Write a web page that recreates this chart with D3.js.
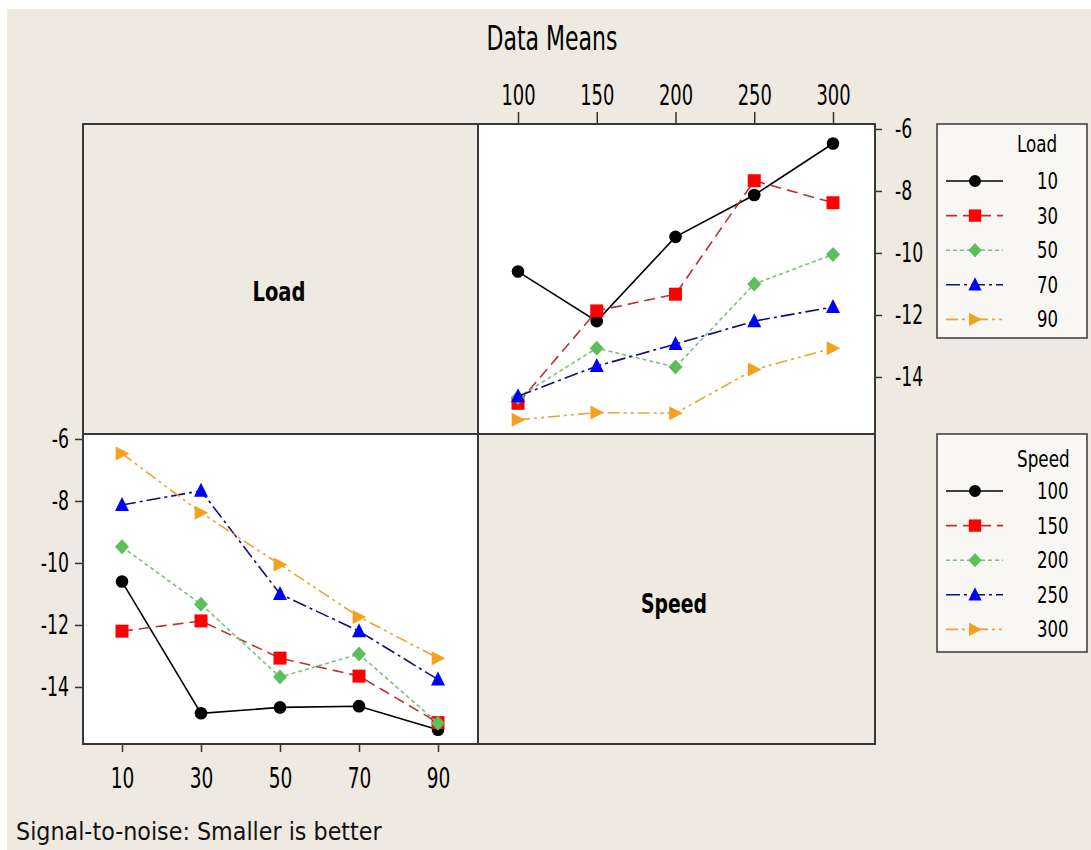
<!DOCTYPE html>
<html>
<head>
<meta charset="utf-8">
<script src="https://cdn.jsdelivr.net/npm/d3@7"></script>
<style>
  body { margin: 0; background: #ffffff; }
  text { font-family: "DejaVu Sans", Verdana, sans-serif; }
</style>
</head>
<body>
<svg id="chart" width="1091" height="850"></svg>
<script>
// Factor levels
const speeds = [100, 150, 200, 250, 300];
const loads = [10, 30, 50, 70, 90];

// Mean S/N ratio for each Load level, listed in Speed order
const load10 = [-10.60, -12.20, -9.48, -8.13, -6.47];
const load30 = [-14.85, -11.87, -11.33, -7.67, -8.38];
const load50 = [-14.66, -13.07, -13.68, -11.00, -10.05];
const load70 = [-14.62, -13.65, -12.94, -12.20, -11.74];
const load90 = [-15.38, -15.15, -15.17, -13.76, -13.07];

const yTicks = [-6, -8, -10, -12, -14];
const yTickLabels = ["-6", "-8", "-10", "-12", "-14"];

// Series appearance, by level index
const lineColors = ["#000000", "#b83232", "#7cc07c", "#10107a", "#eea235"];
const markColors = ["#000000", "#ff0000", "#5cbf5c", "#0000ff", "#f5a01e"];
const dashes = [null, "11,6", "4,3", "14,4,3,4", "12,4,3,4,3,4"];
const shapes = ["circle", "square", "diamond", "triUp", "triRight"];

const means = [load10, load30, load50, load70, load90];

const svg = d3.select("#chart");

// layout
const L = 83, M = 478, R = 875;
const T = 124, C = 434, B = 744;
const sx = 0.64; // horizontal squeeze of the narrow chart font

svg.append("rect").attr("x", 7).attr("y", 9).attr("width", 1084).attr("height", 841).attr("fill", "#eeeae1");

// plot panels
svg.append("rect").attr("x", M).attr("y", T).attr("width", R - M).attr("height", C - T).attr("fill", "#ffffff");
svg.append("rect").attr("x", L).attr("y", C).attr("width", M - L).attr("height", B - C).attr("fill", "#ffffff");

function shapePath(kind, k) {
  const s = k || 1;
  switch (kind) {
    case "circle": return d3.symbol(d3.symbolCircle, 125 * s * s)();
    case "square": return `M${-6.5 * s},${-6.5 * s}H${6.5 * s}V${6.5 * s}H${-6.5 * s}Z`;
    case "diamond": return `M0,${-7.5 * s}L${7 * s},0L0,${7.5 * s}L${-7 * s},0Z`;
    case "triUp": return `M0,${-8 * s}L${7 * s},${6 * s}L${-7 * s},${6 * s}Z`;
    case "triRight": return `M${-6.3 * s},${-7 * s}L${7.3 * s},0L${-6.3 * s},${7 * s}Z`;
  }
}

function textAt(parent, str, x, y, opt) {
  const g = parent.append("g").attr("transform", `translate(${x},${y})`);
  const t = g.append("text").text(str)
    .attr("font-size", opt.size)
    .attr("font-weight", opt.weight || "normal")
    .attr("text-anchor", opt.anchor || "start")
    .attr("fill", opt.fill || "#000");
  const s = opt.width ? opt.width / t.node().getComputedTextLength() : (opt.sx || 1);
  t.attr("transform", `scale(${s},1)`);
  return t;
}

function squeezeAxis(g, size) {
  g.attr("font-family", null).attr("font-size", size);
  g.select(".domain").remove();
  g.selectAll(".tick line").attr("stroke", "#333").attr("stroke-width", 1.5);
  g.selectAll(".tick text").attr("fill", "#000").each(function () {
    const t = d3.select(this);
    const x = +t.attr("x") || 0, y = +t.attr("y") || 0;
    t.attr("x", null).attr("y", null).attr("transform", `translate(${x},${y}) scale(${sx},1)`);
  });
}

// scales
const xSpeed = d3.scalePoint().domain(speeds).range([M + 40, R - 42]);
const xLoad = d3.scalePoint().domain(loads).range([L + 39, M - 40]);
const yTop = d3.scaleLinear().domain([-15.84, -5.84]).range([C, T]);
const yBot = d3.scaleLinear().domain([-15.84, -5.84]).range([B, C]);

// axes
const topAxis = svg.append("g").attr("transform", `translate(0,${T})`)
  .call(d3.axisTop(xSpeed).tickSize(12).tickPadding(7));
squeezeAxis(topAxis, 28);

const rightAxis = svg.append("g").attr("transform", `translate(${R},0)`)
  .call(d3.axisRight(yTop).tickValues(yTicks).tickFormat((d, i) => yTickLabels[i]).tickSize(7).tickPadding(13));
squeezeAxis(rightAxis, 27);

const bottomAxis = svg.append("g").attr("transform", `translate(0,${B})`)
  .call(d3.axisBottom(xLoad).tickSize(8).tickPadding(15));
squeezeAxis(bottomAxis, 29);

const leftAxis = svg.append("g").attr("transform", `translate(${L},0)`)
  .call(d3.axisLeft(yBot).tickValues(yTicks).tickFormat((d, i) => yTickLabels[i]).tickSize(8).tickPadding(6));
squeezeAxis(leftAxis, 27);

// series: Load levels against Speed (upper right)
const upper = svg.append("g");
loads.forEach((ld, i) => {
  const pts = speeds.map((s, j) => [xSpeed(s), yTop(means[i][j])]);
  upper.append("path").attr("d", d3.line()(pts)).attr("fill", "none")
    .attr("stroke", lineColors[i]).attr("stroke-width", 1.6)
    .attr("stroke-dasharray", dashes[i]);
  upper.selectAll(null).data(pts).join("path")
    .attr("d", shapePath(shapes[i]))
    .attr("transform", d => `translate(${d[0]},${d[1]})`)
    .attr("fill", markColors[i]);
});

// series: Speed levels against Load (lower left)
const lower = svg.append("g");
speeds.forEach((sp, j) => {
  const pts = loads.map((ld, i) => [xLoad(ld), yBot(means[i][j])]);
  lower.append("path").attr("d", d3.line()(pts)).attr("fill", "none")
    .attr("stroke", lineColors[j]).attr("stroke-width", 1.6)
    .attr("stroke-dasharray", dashes[j]);
  lower.selectAll(null).data(pts).join("path")
    .attr("d", shapePath(shapes[j]))
    .attr("transform", d => `translate(${d[0]},${d[1]})`)
    .attr("fill", markColors[j]);
});

// matrix frame
const frame = svg.append("g").attr("stroke", "#383838").attr("stroke-width", 2).attr("fill", "none");
frame.append("rect").attr("x", L).attr("y", T).attr("width", R - L).attr("height", B - T);
frame.append("line").attr("x1", M).attr("x2", M).attr("y1", T).attr("y2", B);
frame.append("line").attr("x1", L).attr("x2", R).attr("y1", C).attr("y2", C);

// diagonal panel names
textAt(svg, "Load", 279, 301, { size: 26, weight: "bold", anchor: "middle", width: 53 });
textAt(svg, "Speed", 674, 613, { size: 27, weight: "bold", anchor: "middle", width: 66 });

// title and footnote
textAt(svg, "Data Means", 552, 50, { size: 34, anchor: "middle", width: 131 });
textAt(svg, "Signal-to-noise: Smaller is better", 16, 840, { size: 25, width: 366, fill: "#111" });

// legends
function legend(top, bottom, title, levels, titleDy) {
  const g = svg.append("g");
  g.append("rect").attr("x", 937).attr("y", top).attr("width", 150).attr("height", bottom - top)
    .attr("fill", "#f8f7f3").attr("stroke", "#383838").attr("stroke-width", 1.5);
  textAt(g, title, 1017, top + titleDy, { size: 23, sx: 0.73 });
  levels.forEach((lv, i) => {
    const y = top + 57 + i * 34.6;
    g.append("line").attr("x1", 946).attr("x2", 1003).attr("y1", y).attr("y2", y)
      .attr("stroke", lineColors[i]).attr("stroke-width", 1.6).attr("stroke-dasharray", dashes[i]);
    g.append("path").attr("d", shapePath(shapes[i], 0.95)).attr("transform", `translate(975,${y})`)
      .attr("fill", markColors[i]);
    textAt(g, String(lv), 1037, y + 8, { size: 23, sx: 0.72 });
  });
}
legend(124, 338, "Load", loads, 28);
legend(434, 652, "Speed", speeds, 33);
</script>
</body>
</html>
